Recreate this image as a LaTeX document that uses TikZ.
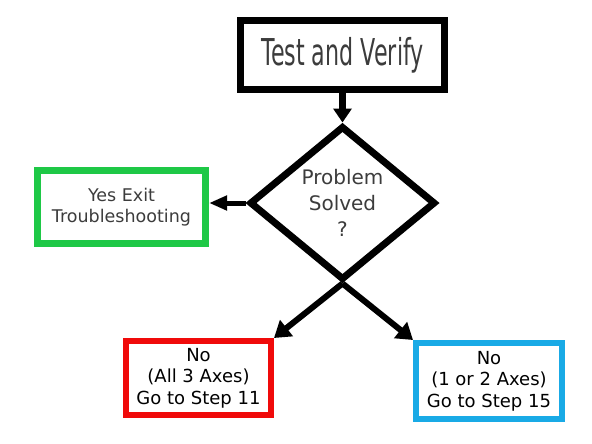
\documentclass[tikz,border=0pt]{standalone}
\usepackage{fontspec}
\setmainfont{DejaVu Sans}
\usetikzlibrary{shapes.geometric,arrows.meta}
\definecolor{boxgreen}{RGB}{30,200,70}
\definecolor{boxred}{RGB}{240,10,10}
\definecolor{boxblue}{RGB}{25,170,230}
\definecolor{txtgray}{RGB}{60,60,60}
\tikzset{
  flowbox/.style={draw, line width=#1, rectangle, inner sep=0pt, align=center},
  flowarrow/.style={line width=6pt, -{Triangle[length=16pt,width=20pt]}},
}
\begin{document}
\begin{tikzpicture}[x=1pt,y=-1pt]
\useasboundingbox (0,0) rectangle (592,444);
\node[flowbox=7pt, minimum width=204pt, minimum height=69pt, text=txtgray,
      font=\fontsize{37pt}{40pt}\selectfont] (top) at (342.5,55)
      {\scalebox{0.6}[1]{Test and Verify}};
\node[draw, line width=7pt, diamond, inner sep=0pt, aspect=1.2,
      minimum width=186pt, minimum height=154pt, align=center, text=txtgray,
      font=\fontsize{20pt}{26pt}\selectfont] (d) at (342.5,203)
      {Problem\\Solved\\?};
\node[flowbox=7pt, draw=boxgreen, minimum width=168pt, minimum height=73pt,
      text=txtgray, font=\fontsize{17.5pt}{21pt}\selectfont] (g) at (121.5,207)
      {Yes Exit\\Troubleshooting};
\node[flowbox=6pt, draw=boxred, minimum width=145pt, minimum height=74pt,
      font=\fontsize{18pt}{21.5pt}\selectfont] (r) at (198.5,378)
      {No\\(All 3 Axes)\\Go to Step 11};
\node[flowbox=6pt, draw=boxblue, minimum width=146pt, minimum height=76pt,
      font=\fontsize{18pt}{21.5pt}\selectfont] (b) at (489,381)
      {No\\(1 or 2 Axes)\\Go to Step 15};
\draw[line width=7pt, -{Triangle[length=14pt,width=18pt]}] (top.south) -- (d.north);
\draw[line width=5pt, -{Triangle[length=18pt,width=14pt]}] (d.west) -- (d.west -| g.east);
\draw[flowarrow] (d.south) -- (r.north east);
\draw[flowarrow] (d.south) -- (b.north west);
\end{tikzpicture}
\end{document}
